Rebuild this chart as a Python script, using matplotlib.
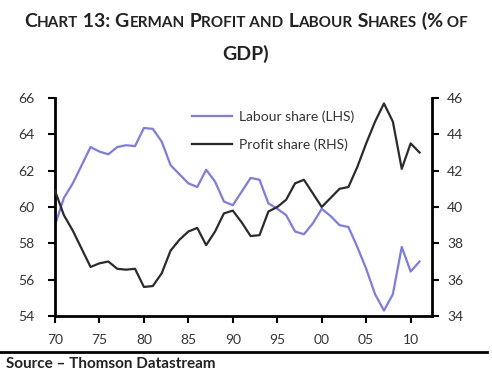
import matplotlib.pyplot as plt
from matplotlib.offsetbox import TextArea, HPacker, AnchoredOffsetbox

years = list(range(1970, 2012))

labour = [59.0, 60.5, 61.3, 62.3, 63.3, 63.05, 62.9, 63.3, 63.4, 63.35,
          64.35, 64.3, 63.6, 62.3, 61.8, 61.3, 61.1, 62.05, 61.4, 60.3,
          60.1, 60.85, 61.6, 61.5, 60.2, 59.9, 59.55, 58.65, 58.5, 59.1,
          59.9, 59.5, 59.0, 58.9, 57.8, 56.6, 55.2, 54.3, 55.2, 57.8,
          56.45, 57.0]

profit = [40.9, 39.55, 38.7, 37.7, 36.7, 36.9, 37.0, 36.6, 36.55, 36.6,
          35.6, 35.65, 36.35, 37.6, 38.2, 38.65, 38.85, 37.9, 38.65, 39.65,
          39.8, 39.15, 38.4, 38.45, 39.75, 40.0, 40.4, 41.3, 41.5, 40.75,
          40.0, 40.5, 41.0, 41.1, 42.2, 43.5, 44.7, 45.7, 44.7, 42.1,
          43.5, 43.0]

x_ticks = [1970, 1975, 1980, 1985, 1990, 1995, 2000, 2005, 2010]
x_labels = ['70', '75', '80', '85', '90', '95', '00', '05', '10']

title_parts = [('C', 14), ('HART', 11), (' 13: G', 14), ('ERMAN', 11),
               (' P', 14), ('ROFIT AND', 11), (' L', 14), ('ABOUR', 11),
               (' S', 14), ('HARES', 11), (' (%', 14), (' OF', 11)]

font = 'Lato'
tick_color = '#333333'

fig = plt.figure(figsize=(4.92, 3.75), dpi=100)
ax = fig.add_axes([0.1118, 0.1573, 0.878 - 0.1118, 0.7387 - 0.1573])
ax2 = ax.twinx()

l1, = ax.plot(years, labour, color='#7b7bef', lw=1.6, label='Labour share (LHS)')
l2, = ax2.plot(years, profit, color='#2b2b2b', lw=1.6, label='Profit share (RHS)')

ax.set_xlim(1970, 2012.4)
ax.set_ylim(54, 66)
ax2.set_ylim(34, 46)
ax.set_yticks(range(54, 67, 2))
ax2.set_yticks(range(34, 47, 2))
ax.set_xticks(x_ticks)
ax.set_xticklabels(x_labels)

for a in (ax, ax2):
    a.spines['top'].set_visible(False)
    for s in ('left', 'right', 'bottom'):
        a.spines[s].set_linewidth(2)
    a.tick_params(width=1.5, length=5, labelsize=10, colors='black',
                  labelcolor=tick_color, direction='out')
    for lab in a.get_xticklabels() + a.get_yticklabels():
        lab.set_family(font)
ax.spines['right'].set_visible(False)
ax2.spines['left'].set_visible(False)
ax2.spines['bottom'].set_visible(False)
ax.tick_params(axis='x', pad=8)
ax.tick_params(axis='y', pad=10)
ax2.tick_params(axis='y', pad=6)

ax.legend([l1, l2], [l1.get_label(), l2.get_label()], loc='upper left',
          bbox_to_anchor=(0.33, 1.0), frameon=False, handlelength=2.9,
          handletextpad=0.5, labelspacing=1.1,
          prop={'family': font, 'size': 10}, labelcolor=tick_color)

# small-caps style title built from pieces
areas = [TextArea(t, textprops=dict(size=s, weight='bold', family=font,
                                    color='#222222'))
         for t, s in title_parts]
box = HPacker(children=areas, align='baseline', pad=0, sep=0)
anch = AnchoredOffsetbox(loc='center', child=box, frameon=False,
                         bbox_to_anchor=(0.5, 0.945),
                         bbox_transform=fig.transFigure, pad=0, borderpad=0)
fig.add_artist(anch)
fig.text(0.5, 0.855, 'GDP)', ha='center', va='center', size=14,
         weight='bold', family=font, color='#222222')

fig.add_artist(plt.Line2D([0.0, 0.99], [0.062, 0.062], color='black', lw=2,
                          transform=fig.transFigure))
fig.text(0.012, 0.028, 'Source \u2013 Thomson Datastream', ha='left',
         va='center', size=11, weight='bold', family=font, color='#222222')

fig.savefig('out.png', dpi=100)
